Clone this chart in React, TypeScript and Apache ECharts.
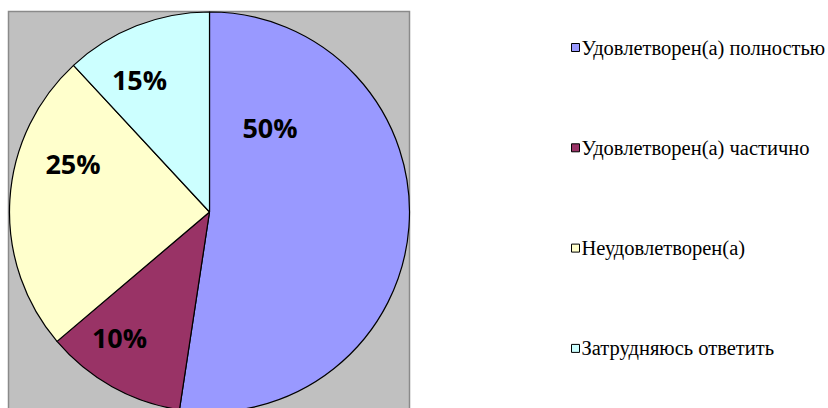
import React, { useEffect, useRef } from "react";
import * as echarts from "echarts";

const categories = [
  "Удовлетворен(а) полностью",
  "Удовлетворен(а) частично",
  "Неудовлетворен(а)",
  "Затрудняюсь ответить",
];
const values = [52.4, 11.4, 24.3, 11.9];
const labels = ["50%", "10%", "25%", "15%"];
const colors = ["#9999FF", "#993366", "#FFFFCC", "#CCFFFF"];
const labelPos: [number, number][] = [
  [270, 127],
  [119.5, 337],
  [73, 163],
  [139.5, 79],
];

const SERIF = "'Liberation Serif', 'Times New Roman', 'DejaVu Serif', serif";

export default function App() {
  const ref = useRef<HTMLDivElement>(null);
  useEffect(() => {
    if (!ref.current) return;
    const chart = echarts.init(ref.current, null, { renderer: "svg" });
    chart.setOption({
      animation: false,
      backgroundColor: "#ffffff",
      legend: {
        orient: "vertical",
        left: 566,
        top: 32,
        itemWidth: 8,
        itemHeight: 8,
        itemGap: 79.3,
        icon: "rect",
        data: categories,
        selectedMode: false,
        itemStyle: { borderColor: "#000", borderWidth: 1 },
        formatter: (name: string) => `{s|${name}}`,
        textStyle: {
          fontFamily: SERIF,
          fontSize: 20.5,
          color: "#000",
          rich: {
            s: {
              fontFamily: SERIF,
              fontSize: 20.5,
              lineHeight: 20,
              color: "#000",
              padding: [0, 0, 0, -3],
            },
          },
        },
      },
      graphic: [
        {
          type: "rect",
          z: -10,
          shape: { x: 8.5, y: 11.5, width: 401, height: 400 },
          style: { fill: "#C0C0C0", stroke: "#8a8a8a", lineWidth: 1.5 },
        },
        ...labels.map((t, i) => ({
          type: "text",
          z: 100,
          x: labelPos[i][0],
          y: labelPos[i][1],
          style: {
            text: t,
            fontFamily: "Open Sans",
            fontWeight: "bold",
            fontSize: 27,
            fill: "#000",
            align: "center",
            verticalAlign: "middle",
          },
        })),
      ],
      series: [
        {
          type: "pie",
          center: [209.5, 212],
          radius: 200,
          startAngle: 90,
          clockwise: true,
          label: { show: false },
          labelLine: { show: false },
          emphasis: { disabled: true },
          itemStyle: { borderColor: "#000", borderWidth: 1.2 },
          data: categories.map((c, i) => ({
            name: c,
            value: values[i],
            itemStyle: { color: colors[i] },
          })),
        },
      ],
    });
    return () => chart.dispose();
  }, []);
  return (
    <div
      ref={ref}
      style={{ position: "fixed", left: 0, top: 0, width: 828, height: 408 }}
    />
  );
}
